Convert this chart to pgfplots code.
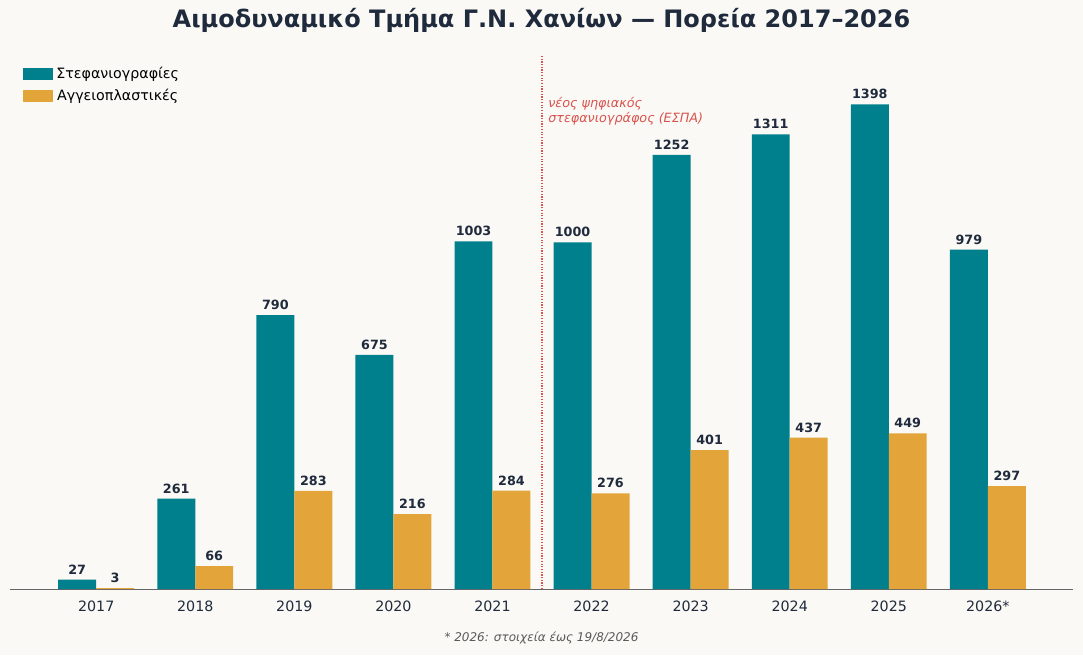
\documentclass[border=0pt]{standalone}
\usepackage{pgfplots}
\pgfplotsset{compat=1.18}
\usepackage{fontspec}
\setmainfont{DejaVu Sans}
\definecolor{bg}{HTML}{FAF9F5}
\definecolor{teal}{HTML}{007F8C}
\definecolor{ora}{HTML}{E3A53A}
\definecolor{txt}{HTML}{1F2A3C}
\definecolor{redd}{HTML}{D9534F}
\begin{document}
\begin{tikzpicture}
\fill[bg] (0,0) rectangle (722pt,436.7pt);
\begin{axis}[at={(6.67pt,44pt)}, anchor=south west, scale only axis,
 width=708.7pt, height=356pt,
 ybar=0pt, bar width=25.3pt,
 xmin=-0.87, xmax=9.86, ymin=0, ymax=1540,
 axis x line*=bottom, axis y line=none,
 x axis line style={draw=gray!80!black},
 xtick=data, xtick style={draw=none},
 xticklabels={2017,2018,2019,2020,2021,2022,2023,2024,2025,2026*},
 xticklabel style={font=\fontsize{9.5}{11}\selectfont, text=txt},
 /pgf/number format/assume math mode=true, /pgf/number format/1000 sep={},
 nodes near coords,
 every node near coord/.append style={font=\bfseries\fontsize{8.5}{10}\selectfont, text=txt},
 legend style={at={(0.008,0.99)}, anchor=north west, draw=none, fill=none, font=\fontsize{9.5}{11}\selectfont, row sep=2pt},
 legend image code/.code={\fill[#1] (0pt,-4pt) rectangle (20pt,4pt);},
 clip=false]
\addplot[fill=teal, draw=none] coordinates {(0,27)(1,261)(2,790)(3,675)(4,1003)(5,1000)(6,1252)(7,1311)(8,1398)(9,979)};
\addplot[fill=ora, draw=none] coordinates {(0,3)(1,66)(2,283)(3,216)(4,284)(5,276)(6,401)(7,437)(8,449)(9,297)};
\legend{Στεφανιογραφίες, Αγγειοπλαστικές}
\draw[redd, densely dotted, thick] (axis cs:4.5,0) -- (axis cs:4.5,1540);
\node[anchor=north west, align=left, text=redd, font=\itshape\fontsize{8.5}{10.5}\selectfont, inner sep=0pt] at (axis cs:4.56,1420) {νέος ψηφιακός\\στεφανιογράφος (ΕΣΠΑ)};
\end{axis}
\node[font=\bfseries\fontsize{16}{19}\selectfont, text=txt] at (361pt,423pt) {Αιμοδυναμικό Τμήμα Γ.Ν. Χανίων — Πορεία 2017–2026};
\node[font=\itshape\fontsize{8}{10}\selectfont, text=gray!70!black] at (361pt,11.3pt) {* 2026: στοιχεία έως 19/8/2026};
\end{tikzpicture}
\end{document}
